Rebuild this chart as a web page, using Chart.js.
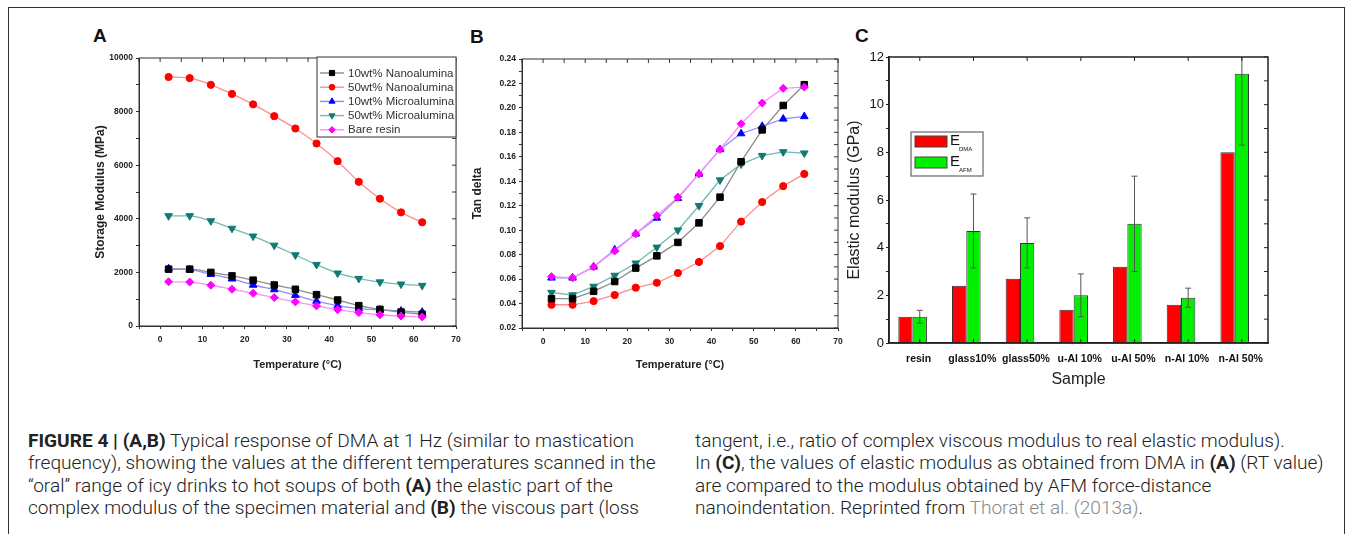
<!DOCTYPE html>
<html>
<head>
<meta charset="utf-8">
<script src="https://cdn.jsdelivr.net/npm/chart.js@4.4.1/dist/chart.umd.min.js"></script>
<style>
  html, body { margin: 0; padding: 0; background: #fff; }
  #page { position: relative; width: 1354px; height: 534px; overflow: hidden; background: #fff; }
  #frame { position: absolute; left: 8px; top: 7px; width: 1335px; height: 600px; border: 1.5px solid #333; }
  canvas { position: absolute; }
  .letter { position: absolute; font: bold 19px 'Liberation Sans', Arial, sans-serif; line-height: 20px; color: #111; }
  .caption { position: absolute; top: 430px; font-family: 'Roboto', sans-serif; font-weight: 300;
             font-size: 19.1px; line-height: 22.3px; color: #222; white-space: nowrap; }
  .caption b { font-weight: 700; }
  .ref { color: #8a8a8a; }
</style>
</head>
<body>
<div id="page">
  <div id="frame"></div>
  <div class="letter" style="left:93px;top:26px">A</div>
  <div class="letter" style="left:470px;top:27px">B</div>
  <div class="letter" style="left:855px;top:26px">C</div>
  <canvas id="chartA" width="410" height="340" style="left:60px;top:40px"></canvas>
  <canvas id="chartB" width="410" height="340" style="left:440px;top:40px"></canvas>
  <canvas id="chartC" width="520" height="370" style="left:820px;top:30px"></canvas>
  <div class="caption" style="left:28px"><b>FIGURE 4 | (A,B)</b> Typical response of DMA at 1 Hz (similar to mastication<br>frequency), showing the values at the different temperatures scanned in the<br>“oral” range of icy drinks to hot soups of both <b>(A)</b> the elastic part of the<br>complex modulus of the specimen material and <b>(B)</b> the viscous part (loss</div>
  <div class="caption" style="left:695px">tangent, i.e., ratio of complex viscous modulus to real elastic modulus).<br>In <b>(C)</b>, the values of elastic modulus as obtained from DMA in <b>(A)</b> (RT value)<br>are compared to the modulus obtained by AFM force-distance<br>nanoindentation. Reprinted from <span class="ref">Thorat et al. (2013a)</span>.</div>
</div>
<script>
// shared temperature axis for A and B
const temperatures = [2, 7, 12, 17, 22, 27, 32, 37, 42, 47, 52, 57, 62];
const seriesNames = ['10wt% Nanoalumina', '50wt% Nanoalumina', '10wt% Microalumina', '50wt% Microalumina', 'Bare resin'];
const tempTicks = [0, 10, 20, 30, 40, 50, 60, 70];

// A: storage modulus (MPa)
const storageNano10 = [2120, 2120, 2000, 1870, 1710, 1530, 1370, 1170, 970, 760, 620, 520, 440];
const storageNano50 = [9290, 9250, 9000, 8660, 8270, 7830, 7370, 6810, 6150, 5380, 4750, 4240, 3870];
const storageMicro10 = [2140, 2100, 1930, 1760, 1530, 1360, 1150, 930, 760, 650, 600, 560, 520];
const storageMicro50 = [4110, 4110, 3920, 3640, 3350, 3010, 2650, 2290, 1970, 1770, 1640, 1560, 1510];
const storageResin = [1650, 1640, 1520, 1370, 1220, 1060, 900, 750, 610, 500, 420, 370, 340];
const modulusTicks = [0, 2000, 4000, 6000, 8000, 10000];

// B: tan delta
const tanNano10 = [0.044, 0.044, 0.050, 0.058, 0.069, 0.079, 0.090, 0.106, 0.127, 0.156, 0.182, 0.202, 0.219];
const tanNano50 = [0.039, 0.039, 0.042, 0.047, 0.053, 0.057, 0.065, 0.074, 0.087, 0.107, 0.123, 0.136, 0.146];
const tanMicro10 = [0.061, 0.061, 0.070, 0.084, 0.097, 0.110, 0.126, 0.146, 0.166, 0.179, 0.185, 0.191, 0.193];
const tanMicro50 = [0.049, 0.047, 0.054, 0.063, 0.073, 0.086, 0.100, 0.120, 0.141, 0.154, 0.161, 0.164, 0.163];
const tanResin = [0.062, 0.061, 0.070, 0.083, 0.097, 0.112, 0.127, 0.146, 0.166, 0.187, 0.204, 0.216, 0.217];
const tanTicks = [0.02, 0.04, 0.06, 0.08, 0.10, 0.12, 0.14, 0.16, 0.18, 0.20, 0.22, 0.24];

// C: elastic modulus (GPa)
const samples = ['resin', 'glass10%', 'glass50%', 'u-Al 10%', 'u-Al 50%', 'n-Al 10%', 'n-Al 50%'];
const eDMA = [1.1, 2.4, 2.7, 1.4, 3.2, 1.6, 8.0];
const eAFM = [1.1, 4.7, 4.2, 2.0, 5.0, 1.9, 11.3];
const eAFMErr = [0.27, 1.55, 1.05, 0.9, 2.0, 0.4, 3.0];
const gpaTicks = [0, 2, 4, 6, 8, 10, 12];
const modulusSeries = ['E_DMA', 'E_AFM'];

Chart.defaults.font.family = "'Liberation Sans', Arial, sans-serif";

const seriesStyles = [
    { color: '#000000', line: '#8c8c8c', shape: 'rect', radius: 4.6, rotation: 0, order: 1 },
    { color: '#ff0000', line: '#ff8c8c', shape: 'circle', radius: 3.6, rotation: 0, order: 3 },
    { color: '#0000ff', line: '#8c8cff', shape: 'triangle', radius: 4.4, rotation: 0, order: 2 },
    { color: '#127a72', line: '#72bab3', shape: 'triangle', radius: 4.4, rotation: 180, order: 4 },
    { color: '#ff00ff', line: '#ff8cff', shape: 'rectRot', radius: 4, rotation: 0, order: 0 }
];

// box + mirrored inner ticks, Origin style
const framePlugin = {
    id: 'frame',
    afterDraw(chart, args, opts) {
        let ctx = chart.ctx;
        let a = chart.chartArea;
        let xs;
        if(opts.barTicks) {
            xs = chart.getDatasetMeta(1).data.map(b => b.x);
        } else {
            xs = chart.scales.x.ticks.map(t => chart.scales.x.getPixelForValue(t.value));
        }
        ctx.save();
        ctx.strokeStyle = opts.color;
        ctx.lineWidth = opts.width;
        ctx.strokeRect(a.left, a.top, a.right - a.left, a.bottom - a.top);
        ctx.lineWidth = 1;
        ctx.beginPath();
        xs.forEach(px => {
            ctx.moveTo(px, a.top);
            ctx.lineTo(px, a.top + opts.len);
            if(opts.barTicks) {
                ctx.moveTo(px, a.bottom);
                ctx.lineTo(px, a.bottom - opts.len);
            }
        });
        chart.scales.y.ticks.forEach(t => {
            let py = chart.scales.y.getPixelForValue(t.value);
            ctx.moveTo(a.right, py);
            ctx.lineTo(a.right - opts.len, py);
        });
        ctx.stroke();
        ctx.restore();
    }
};

const seriesLegend = {
    id: 'seriesLegend',
    afterDraw(chart, args, opts) {
        if(!opts.show) return;
        let ctx = chart.ctx;
        let a = chart.chartArea;
        let w = 139, h = 80;
        let x0 = a.right - w, y0 = a.top - 1;
        ctx.save();
        ctx.fillStyle = '#fff';
        ctx.fillRect(x0, y0, w, h);
        ctx.strokeStyle = '#555';
        ctx.lineWidth = 1.2;
        ctx.strokeRect(x0, y0, w, h);
        ctx.font = "11.5px 'Liberation Sans', Arial, sans-serif";
        ctx.textBaseline = 'middle';
        chart.data.datasets.forEach((ds, i) => {
            let y = y0 + 16 + i * 14.2;
            ctx.strokeStyle = ds.borderColor;
            ctx.lineWidth = 1.4;
            ctx.beginPath();
            ctx.moveTo(x0 + 3, y);
            ctx.lineTo(x0 + 27, y);
            ctx.stroke();
            ctx.fillStyle = ds.pointBackgroundColor;
            ctx.strokeStyle = ds.pointBorderColor;
            ctx.lineWidth = 1;
            Chart.helpers.drawPoint(ctx, {
                pointStyle: ds.pointStyle, radius: ds.pointRadius * 0.8,
                rotation: ds.pointRotation, borderWidth: 1
            }, x0 + 15, y);
            ctx.fillStyle = '#333';
            ctx.fillText(ds.label, x0 + 31, y + 0.5);
        });
        ctx.restore();
    }
};

const errorBars = {
    id: 'errorBars',
    afterDatasetsDraw(chart) {
        let ctx = chart.ctx;
        let a = chart.chartArea;
        let y = chart.scales.y;
        let bars = chart.getDatasetMeta(1).data;
        ctx.save();
        ctx.beginPath();
        ctx.rect(a.left, a.top, a.right - a.left, a.bottom - a.top);
        ctx.clip();
        ctx.strokeStyle = '#555';
        ctx.lineWidth = 1;
        bars.forEach((bar, i) => {
            let hi = y.getPixelForValue(eAFM[i] + eAFMErr[i]);
            let lo = y.getPixelForValue(eAFM[i] - eAFMErr[i]);
            ctx.beginPath();
            ctx.moveTo(bar.x, hi); ctx.lineTo(bar.x, lo);
            ctx.moveTo(bar.x - 3, hi); ctx.lineTo(bar.x + 3, hi);
            ctx.moveTo(bar.x - 3, lo); ctx.lineTo(bar.x + 3, lo);
            ctx.stroke();
        });
        ctx.restore();
    }
};

const modulusLegend = {
    id: 'modulusLegend',
    afterDraw(chart) {
        let ctx = chart.ctx;
        let a = chart.chartArea;
        let x0 = a.left + 22, y0 = a.top + 75;
        ctx.save();
        ctx.fillStyle = '#fff';
        ctx.fillRect(x0, y0, 72, 44);
        ctx.strokeStyle = '#666';
        ctx.lineWidth = 1.2;
        ctx.strokeRect(x0, y0, 72, 44);
        chart.data.datasets.forEach((ds, i) => {
            let sy = y0 + 4 + i * 21;
            ctx.fillStyle = ds.backgroundColor;
            ctx.fillRect(x0 + 4, sy, 32, 11);
            ctx.strokeStyle = '#444';
            ctx.lineWidth = 1;
            ctx.strokeRect(x0 + 4, sy, 32, 11);
            let parts = ds.label.split('_');
            ctx.fillStyle = '#111';
            ctx.textBaseline = 'middle';
            ctx.font = "15px 'Liberation Sans', Arial, sans-serif";
            ctx.fillText(parts[0], x0 + 39, sy + 5);
            ctx.font = "6px 'Liberation Sans', Arial, sans-serif";
            ctx.fillText(parts[1], x0 + 48, sy + 13);
        });
        ctx.restore();
    }
};

function buildDatasets(valuesList, smooth) {
    return valuesList.map((values, i) => {
        let st = seriesStyles[i];
        return {
            label: seriesNames[i],
            data: values.map((v, j) => ({ x: temperatures[j], y: v })),
            borderColor: st.line,
            borderWidth: 1.3,
            pointStyle: st.shape,
            pointRadius: st.radius,
            pointRotation: st.rotation,
            pointBackgroundColor: st.color,
            pointBorderColor: st.color,
            pointBorderWidth: 1,
            cubicInterpolationMode: smooth ? 'monotone' : 'default',
            tension: 0,
            order: st.order
        };
    });
}

const tickFont = { size: 8.5, weight: 'bold' };

function dmaOptions(cfg) {
    return {
        responsive: false,
        animation: false,
        layout: { padding: cfg.padding },
        plugins: {
            legend: { display: false },
            tooltip: { enabled: false },
            frame: { color: '#333', width: 1, len: 4 },
            seriesLegend: { show: cfg.legend }
        },
        scales: {
            x: {
                type: 'linear', min: -5, max: 70,
                ticks: {
                    stepSize: 5, autoSkip: false, maxRotation: 0, padding: 6, color: '#222', font: tickFont,
                    callback: v => tempTicks.includes(v) ? String(v) : ''
                },
                grid: { drawOnChartArea: false, tickLength: 3, color: '#333' },
                border: { color: '#333', width: 1 },
                title: { display: true, text: 'Temperature (°C)', color: '#222', padding: 0, font: { size: 11, weight: 'bold' } },
                afterFit: s => { s.height = cfg.xHeight; }
            },
            y: {
                min: cfg.yMin, max: cfg.yMax,
                ticks: { stepSize: cfg.yStep, autoSkip: false, padding: 3, color: '#222', font: tickFont, callback: cfg.yLabel },
                grid: { drawOnChartArea: false, tickLength: 3, color: '#333' },
                border: { color: '#333', width: 1 },
                title: { display: true, text: cfg.yTitle, color: '#222', padding: 0, font: { size: 12, weight: 'bold' } },
                afterFit: s => { s.width = cfg.yWidth; }
            }
        }
    };
}

new Chart(document.getElementById('chartA'), {
    type: 'line',
    data: { datasets: buildDatasets([storageNano10, storageNano50, storageMicro10, storageMicro50, storageResin], true) },
    options: dmaOptions({
        padding: { left: 33, top: 18, right: 14, bottom: 8.4 },
        yWidth: 46, xHeight: 45.6,
        yMin: 0, yMax: 10000, yStep: 1000,
        yLabel: v => modulusTicks.includes(v) ? String(v) : '',
        yTitle: 'Storage Modulus (MPa)',
        legend: true
    }),
    plugins: [framePlugin, seriesLegend]
});

new Chart(document.getElementById('chartB'), {
    type: 'line',
    data: { datasets: buildDatasets([tanNano10, tanNano50, tanMicro10, tanMicro50, tanResin], false) },
    options: dmaOptions({
        padding: { left: 30.8, top: 19, right: 12, bottom: 8.4 },
        yWidth: 51.2, xHeight: 43.6,
        yMin: 0.02, yMax: 0.24, yStep: 0.01,
        yLabel: v => {
            let t = tanTicks.find(t => Math.abs(t - v) < 1e-6);
            return t === undefined ? '' : t.toFixed(2);
        },
        yTitle: 'Tan delta',
        legend: false
    }),
    plugins: [framePlugin, seriesLegend]
});

new Chart(document.getElementById('chartC'), {
    type: 'bar',
    data: {
        datasets: [
            {
                label: modulusSeries[0],
                data: eDMA.map((v, i) => ({ x: i, y: v })),
                backgroundColor: '#ff0000', borderColor: '#333', borderWidth: 1,
                categoryPercentage: 0.533, barPercentage: 1
            },
            {
                label: modulusSeries[1],
                data: eAFM.map((v, i) => ({ x: i, y: v })),
                backgroundColor: '#00f000', borderColor: '#333', borderWidth: 1,
                categoryPercentage: 0.533, barPercentage: 1
            }
        ]
    },
    options: {
        responsive: false,
        animation: false,
        layout: { padding: { left: 25, top: 27, right: 72, bottom: 10.4 } },
        plugins: {
            legend: { display: false },
            tooltip: { enabled: false },
            frame: { color: '#222', width: 1.5, len: 4, barTicks: true }
        },
        scales: {
            x: {
                type: 'linear', min: -0.44, max: 6.62, offset: false,
                grid: { offset: false, drawOnChartArea: false, drawTicks: false },
                border: { color: '#222', width: 1.5 },
                ticks: {
                    stepSize: 1, includeBounds: false, autoSkip: false, maxRotation: 0, padding: 10, labelOffset: 6,
                    color: '#111', font: { size: 10.5, weight: 'bold' },
                    callback: v => Number.isInteger(v) ? samples[v] : ''
                },
                title: { display: true, text: 'Sample', color: '#222', padding: 0, font: { size: 16 } },
                afterFit: s => { s.height = 46.6; }
            },
            y: {
                min: 0, max: 12,
                ticks: { stepSize: 1, padding: 2, color: '#111', font: { size: 13 }, callback: v => gpaTicks.includes(v) ? String(v) : '' },
                grid: { drawOnChartArea: false, tickLength: 3, color: '#222' },
                border: { color: '#222', width: 1.5 },
                title: { display: true, text: 'Elastic modulus (GPa)', color: '#222', padding: 0, font: { size: 16 } },
                afterFit: s => { s.width = 44; }
            }
        }
    },
    plugins: [framePlugin, errorBars, modulusLegend]
});
</script>
</body>
</html>
